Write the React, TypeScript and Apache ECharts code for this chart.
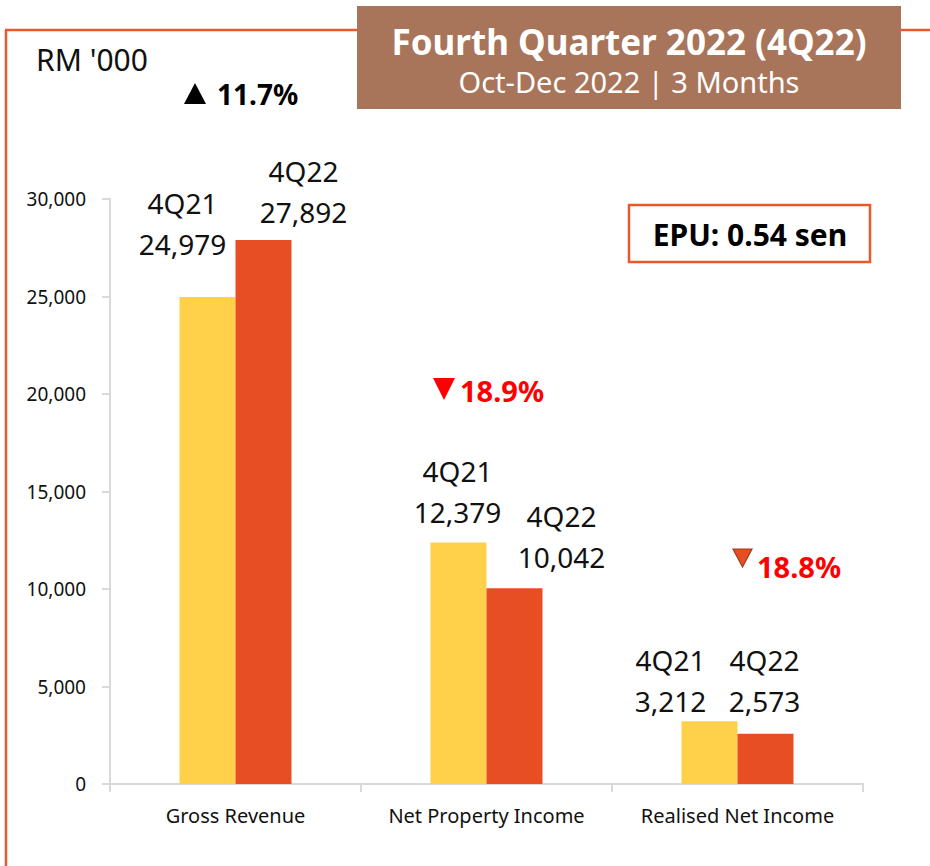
import React, { useEffect, useRef } from "react";
import * as echarts from "echarts";

const categories = ["Gross Revenue", "Net Property Income", "Realised Net Income"];
const seriesNames = ["4Q21", "4Q22"];
const values4Q21 = [24979, 12379, 3212];
const values4Q22 = [27892, 10042, 2573];
const yTicks = { min: 0, max: 30000, interval: 5000 };
const changeLabels = ["11.7%", "18.9%", "18.8%"];
const epuText = "EPU: 0.54 sen";
const titleMain = "Fourth Quarter 2022 (4Q22)";
const titleSub = "Oct-Dec 2022 | 3 Months";
const unitText = "RM '000";

// label placement tweaks (style, not data)
const offsets21 = [[-25, -32], [-1, -10], [-39, 0]];
const offsets22 = [[40, -8], [47, -11], [-1, -12]];

const FONT = "'Noto Sans', 'Open Sans', sans-serif";
const YELLOW = "#FFD04A";
const ORANGE = "#E84E24";
const FRAME = "#E9572B";
const BROWN = "#A8745A";
const RED = "#FF0000";

export default function App() {
  const ref = useRef<HTMLDivElement>(null);
  useEffect(() => {
    if (!ref.current) return;
    const chart = echarts.init(ref.current, undefined, { renderer: "svg" });
    const fmt = (v: number) => v.toLocaleString("en-US");
    const mkData = (vals: number[], offs: number[][]) =>
      vals.map((v, i) => ({ value: v, label: { offset: offs[i] } }));
    const labelBase = {
      show: true,
      position: "top",
      distance: 0,
      fontFamily: FONT,
      fontSize: 28,
      lineHeight: 41,
      color: "#111",
      align: "center",
    };
    chart.setOption({
      animation: false,
      backgroundColor: "#fff",
      grid: { left: 110, right: 67, top: 199, bottom: 82, containLabel: false },
      xAxis: {
        type: "category",
        data: categories,
        axisLine: { lineStyle: { color: "#D9D9D9", width: 2 } },
        axisTick: { show: true, length: 8, lineStyle: { color: "#D9D9D9", width: 2 } },
        axisLabel: { interval: 0, fontFamily: FONT, fontSize: 20, color: "#111", margin: 21 },
      },
      yAxis: {
        type: "value",
        min: yTicks.min,
        max: yTicks.max,
        interval: yTicks.interval,
        axisLine: { show: true, lineStyle: { color: "#D9D9D9", width: 2 } },
        axisTick: { show: true, length: 8, lineStyle: { color: "#D9D9D9", width: 2 } },
        splitLine: { show: false },
        axisLabel: { fontFamily: FONT, fontSize: 19, color: "#111", margin: 24 },
      },
      series: [
        {
          name: seriesNames[0],
          type: "bar",
          barWidth: 56,
          barGap: "0%",
          itemStyle: { color: YELLOW },
          label: { ...labelBase, formatter: (p: any) => `${seriesNames[0]}\n${fmt(p.value)}` },
          data: mkData(values4Q21, offsets21),
        },
        {
          name: seriesNames[1],
          type: "bar",
          barWidth: 56,
          barGap: "0%",
          itemStyle: { color: ORANGE },
          label: { ...labelBase, formatter: (p: any) => `${seriesNames[1]}\n${fmt(p.value)}` },
          data: mkData(values4Q22, offsets22),
        },
      ],
      graphic: [
        // frame lines
        { type: "line", shape: { x1: 6, y1: 30, x2: 6, y2: 866 }, style: { stroke: FRAME, lineWidth: 2.5 } },
        { type: "line", shape: { x1: 5, y1: 30, x2: 360, y2: 30 }, style: { stroke: FRAME, lineWidth: 2.5 } },
        { type: "line", shape: { x1: 898, y1: 30, x2: 930, y2: 30 }, style: { stroke: FRAME, lineWidth: 2.5 } },
        // title box
        { type: "rect", shape: { x: 357, y: 6, width: 544, height: 103 }, style: { fill: BROWN } },
        {
          type: "text",
          x: 629,
          y: 41,
          style: {
            text: titleMain,
            fill: "#fff",
            font: `bold 35px ${FONT}`,
            align: "center",
            verticalAlign: "middle",
          },
        },
        {
          type: "text",
          x: 629,
          y: 81,
          style: {
            text: titleSub,
            fill: "#fff",
            font: `29px ${FONT}`,
            align: "center",
            verticalAlign: "middle",
          },
        },
        // unit
        {
          type: "text",
          x: 36,
          y: 59,
          style: { text: unitText, fill: "#111", font: `30px ${FONT}`, verticalAlign: "middle" },
        },
        // up change
        { type: "polygon", shape: { points: [[195, 83], [184, 104], [206, 104]] }, style: { fill: "#000" } },
        {
          type: "text",
          x: 217,
          y: 94,
          style: { text: changeLabels[0], fill: "#000", font: `bold 28px ${FONT}`, verticalAlign: "middle" },
        },
        // EPU box
        {
          type: "rect",
          shape: { x: 629, y: 205, width: 241, height: 57 },
          style: { fill: "#fff", stroke: FRAME, lineWidth: 2.5 },
        },
        {
          type: "text",
          x: 750,
          y: 234,
          style: { text: epuText, fill: "#000", font: `bold 30px ${FONT}`, align: "center", verticalAlign: "middle" },
        },
        // down change NPI
        { type: "polygon", shape: { points: [[433, 378], [455, 378], [444, 400]] }, style: { fill: RED } },
        {
          type: "text",
          x: 460,
          y: 390,
          style: { text: changeLabels[1], fill: RED, font: `bold 29px ${FONT}`, verticalAlign: "middle" },
        },
        // down change RNI
        {
          type: "polygon",
          shape: { points: [[733, 549], [752, 549], [742.5, 567]] },
          style: { fill: ORANGE, stroke: "#A23A1C", lineWidth: 1.2 },
        },
        {
          type: "text",
          x: 757,
          y: 566,
          style: { text: changeLabels[2], fill: RED, font: `bold 29px ${FONT}`, verticalAlign: "middle" },
        },
      ],
    });
    return () => chart.dispose();
  }, []);
  return (
    <div
      ref={ref}
      style={{ position: "absolute", left: 0, top: 0, width: 930, height: 866 }}
    />
  );
}
